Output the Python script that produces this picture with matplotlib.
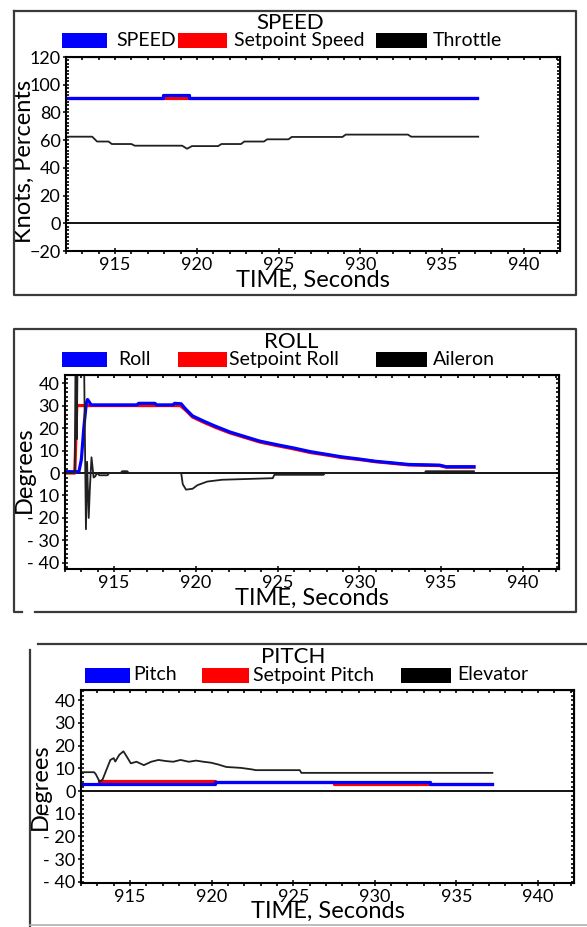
import matplotlib
matplotlib.use("Agg")
import matplotlib.pyplot as plt
from matplotlib.patches import Rectangle
from matplotlib.lines import Line2D
from matplotlib.ticker import MultipleLocator, FuncFormatter

plt.rcParams['font.family'] = ['Lato', 'DejaVu Sans']

W, H = 587, 927

# ---- SPEED panel data ----
t_speed = [912.1, 917.9, 917.9, 919.5, 919.5, 937.1]
speed = [90.7, 90.7, 92.6, 92.6, 90.7, 90.7]
sp_speed = [90.7, 90.7, 90.2, 90.2, 90.7, 90.7]
t_thr = [912.1, 913.6, 913.9, 914.6, 914.8, 916.0, 916.2, 919.1, 919.4, 919.7,
         921.3, 921.5, 922.7, 922.9, 924.1, 924.3, 925.6, 925.8, 928.9, 929.1,
         932.9, 933.1, 937.2]
throttle = [62.5, 62.5, 59, 59, 57.2, 57.2, 56, 56, 53.8, 55.7,
            55.7, 57.2, 57.2, 59, 59, 60.6, 60.6, 62.3, 62.3, 64,
            64, 62.5, 62.5]

# ---- ROLL panel data ----
t_roll = [912.1, 912.85, 913.0, 913.15, 913.3, 913.38, 913.6, 916.4, 916.5, 917.5,
          917.6, 918.6, 918.7, 919.1, 919.37, 919.8, 920.5, 921.2, 922.1, 923.0,
          923.9, 924.95, 926.0, 927.0, 928.0, 928.9, 930.0, 931.0, 931.9, 933.0,
          934.9, 935.3, 937.0]
roll = [0.6, 0.6, 6, 20, 31, 32.7, 30.3, 30.3, 31, 31,
        30.3, 30.3, 31, 30.8, 28.5, 25.4, 23, 20.8, 18.2, 16.2,
        14.2, 12.6, 11.1, 9.5, 8.3, 7.2, 6.2, 5.2, 4.6, 3.8,
        3.5, 2.8, 2.8]
t_sp_roll = [912.1, 912.6, 912.72, 919.05, 919.37, 919.8, 920.5, 921.2, 922.1, 923.0,
             923.9, 924.95, 926.0, 927.0, 928.0, 928.9, 930.0, 931.0, 931.9, 933.0,
             934.9, 935.3, 937.0]
sp_roll = [0, 0, 30, 30, 28.0, 24.9, 22.5, 20.3, 17.8, 15.8,
           13.8, 12.2, 10.7, 9.1, 8.0, 6.9, 6.0, 5.0, 4.4, 3.6,
           3.3, 2.6, 2.6]
t_ail = [912.1, 912.6, 912.65, 912.7, 912.72, 912.78, 913.15, 913.28, 913.35, 913.45,
         913.52, 913.62, 913.75, 913.85, 913.95, 914.1, 914.6, 914.7, 915.4, 915.5,
         915.8, 915.9, 919.1, 919.2, 919.4, 919.8, 920.1, 920.7, 921.6, 924.7,
         924.8, 927.8, 927.9, 934.0, 934.05, 937.0]
aileron = [0, 0, 60, 15, 15, 60, 60, -25, 5, -20,
           -7, 7, -2, -1.5, 0, -1, -1, 0, 0, 0.8,
           0.8, 0, 0, -5, -7.4, -7, -5.4, -3.8, -3, -2.3,
           -0.8, -0.8, 0, 0, 0.8, 0.8]

# ---- PITCH panel data ----
t_pitch = [912.1, 920.2, 920.2, 933.4, 933.4, 937.2]
pitch = [2.9, 2.9, 4.0, 4.0, 2.9, 2.9]
t_sp_pitch = [913.1, 920.2, 920.2, 927.5, 927.5, 933.4, 937.2]
sp_pitch = [4.3, 4.3, 4.0, 4.0, 3.0, 3.0, 3.0]
t_elev = [912.1, 912.8, 912.9, 913.15, 913.33, 913.5, 913.8, 914.0, 914.1, 914.35,
          914.6, 914.8, 915.05, 915.4, 915.85, 916.3, 916.75, 917.2, 917.65, 918.1,
          918.6, 919.05, 919.5, 919.95, 920.4, 920.9, 921.8, 922.5, 922.7, 925.4,
          925.5, 937.2]
elevator = [8.3, 8.3, 7.5, 4.0, 5.2, 8.3, 13.7, 14.5, 13.0, 16.0,
            17.5, 15.2, 12.2, 12.9, 11.4, 12.9, 13.7, 13.2, 12.9, 13.7,
            12.9, 13.4, 12.9, 12.5, 11.7, 10.6, 10.2, 9.5, 9.2, 9.2,
            8.0, 8.0]

fig = plt.figure(figsize=(W / 100, H / 100), dpi=100)


def px_box(left, top, right, bottom):
    return [left / W, 1 - bottom / H, (right - left) / W, (bottom - top) / H]


def fx(x):
    return x / W


def fy(y):
    return 1 - y / H


def neg_fmt(v, pos):
    if v < 0:
        return "- %g" % abs(v)
    return "%g" % v


def style_axes(ax, ylim, ymajor, yminor, ylabel, ylab_pos, fmt=None):
    ax.set_xlim(912.0, 942.2)
    ax.set_ylim(*ylim)
    ax.xaxis.set_major_locator(MultipleLocator(5))
    ax.xaxis.set_minor_locator(MultipleLocator(1))
    ax.yaxis.set_major_locator(MultipleLocator(ymajor))
    ax.yaxis.set_minor_locator(MultipleLocator(yminor))
    ax.set_xticks([915, 920, 925, 930, 935, 940])
    if fmt is not None:
        ax.yaxis.set_major_formatter(FuncFormatter(fmt))
    for s in ax.spines.values():
        s.set_linewidth(1.5)
    ax.tick_params(which='major', direction='inout', length=5, width=1.1,
                   labelsize=13, pad=1.5)
    ax.tick_params(axis='x', which='minor', direction='out', length=2.2, width=1.2)
    ax.tick_params(axis='y', which='minor', direction='in', length=2.2, width=1.2)
    top = ax.secondary_xaxis('top')
    top.xaxis.set_major_locator(MultipleLocator(5))
    top.xaxis.set_minor_locator(MultipleLocator(1))
    top.tick_params(which='both', direction='in', labeltop=False, length=2.2, width=1.2)
    right = ax.secondary_yaxis('right')
    right.yaxis.set_major_locator(MultipleLocator(ymajor))
    right.yaxis.set_minor_locator(MultipleLocator(yminor))
    right.tick_params(which='both', direction='in', labelright=False, length=2.2, width=1.2)
    ax.axhline(0, color='black', lw=1.3, zorder=1)
    ax.set_xlabel("TIME, Seconds", fontsize=17)
    ax.xaxis.set_label_coords(0.5, -0.095)
    ax.set_ylabel(ylabel, fontsize=17)
    ax.yaxis.label.set_va('center')
    ax.yaxis.set_label_coords(*ylab_pos)


def legend_row(y, entries):
    # entries: (patch_left, patch_right, text_left, label, colour)
    for pl, pr, tl, label, col in entries:
        fig.add_artist(Rectangle((fx(pl), fy(y + 7.5)), (pr - pl) / W, 15 / H,
                                 transform=fig.transFigure, color=col, lw=0))
        fig.text(fx(tl), fy(y), label, fontsize=14, ha='left', va='center')


# ---- SPEED ----
ax1 = fig.add_axes(px_box(66, 57, 560, 251))
ax1.plot(t_speed, sp_speed, color='red', lw=2.3)
ax1.plot(t_speed, speed, color='blue', lw=2.3)
ax1.plot(t_thr, throttle, color='#202020', lw=1.3)
style_axes(ax1, (-20, 120), 20, 2.5, "Knots, Percents", (-0.085, 0.46))
fig.text(fx(290), fy(23), "SPEED", fontsize=16, ha='center', va='center')
legend_row(40.5, [(62, 107, 116, "SPEED", 'blue'),
                  (178, 227, 234, "Setpoint Speed", 'red'),
                  (376, 427, 433, "Throttle", 'black')])

# ---- ROLL ----
ax2 = fig.add_axes(px_box(65, 375, 559, 569))
ax2.plot(t_sp_roll, sp_roll, color='red', lw=2.3)
ax2.plot(t_roll, roll, color='blue', lw=2.3)
ax2.plot(t_ail, aileron, color='#202020', lw=1.3)
style_axes(ax2, (-42.7, 43.6), 10, 2, "Degrees", (-0.083, 0.51), neg_fmt)
fig.text(fx(291), fy(342), "ROLL", fontsize=16, ha='center', va='center')
legend_row(359.5, [(62, 107, 118, "Roll", 'blue'),
                   (178, 227, 229, "Setpoint Roll", 'red'),
                   (376, 427, 433, "Aileron", 'black')])

# ---- PITCH ----
ax3 = fig.add_axes(px_box(81, 690, 574, 883))
ax3.plot(t_sp_pitch, sp_pitch, color='red', lw=2.3)
ax3.plot(t_pitch, pitch, color='blue', lw=2.3)
ax3.plot(t_elev, elevator, color='#202020', lw=1.3)
style_axes(ax3, (-40.5, 44.5), 10, 2, "Degrees", (-0.083, 0.50), neg_fmt)
fig.text(fx(293), fy(657), "PITCH", fontsize=16, ha='center', va='center')
legend_row(675, [(85, 130, 133, "Pitch", 'blue'),
                 (202, 249, 253, "Setpoint Pitch", 'red'),
                 (401, 451, 457, "Elevator", 'black')])

# ---- panel frames ----
frame_col = '#3a3a3a'


def fline(xs, ys, col=frame_col, lw=1.6):
    fig.add_artist(Line2D([fx(v) for v in xs], [fy(v) for v in ys],
                          transform=fig.transFigure, color=col, lw=lw))


fline([14, 576, 576, 14, 14], [11, 11, 295, 295, 11])
fline([22, 14, 14, 576, 576, 35], [612, 612, 329, 329, 612, 612])
fline([38, 587], [644, 644])
fline([30, 30], [650, 927])
fline([30, 587], [925, 925], col='#b0b0b0', lw=1.2)

fig.savefig("out.png", dpi=100)
